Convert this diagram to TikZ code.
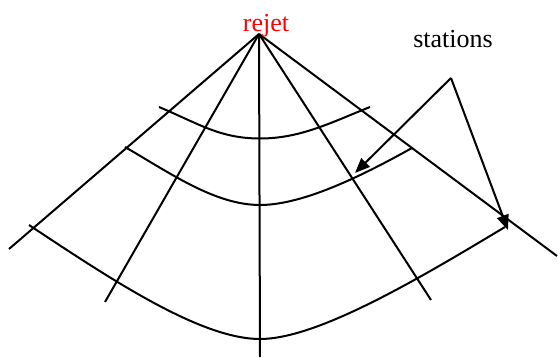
\documentclass[tikz,border=0pt]{standalone}
\usepackage{fontspec}
\setmainfont{Liberation Serif}
\usetikzlibrary{arrows.meta}
\tikzset{
  ln/.style={line width=2pt, line join=round},
  pointer/.style={ln, -{Triangle[length=15pt,width=12pt]}},
  lbl/.style={font=\fontsize{26}{30}\selectfont, inner sep=0pt, anchor=base}
}
\begin{document}
\begin{tikzpicture}[x=1pt,y=-1pt]
\useasboundingbox (0,0) rectangle (558,358);
% apex and ray ends
\coordinate (O) at (259,34);
\coordinate (r1) at (9,249);
\coordinate (r2) at (105,302);
\coordinate (r3) at (260,357);
\coordinate (r4) at (431,300);
\coordinate (r5) at (557,256);
\draw[ln] (O) -- (r1);
\draw[ln] (O) -- (r2);
\draw[ln] (O) -- (r3);
\draw[ln] (O) -- (r4);
\draw[ln] (O) -- (r5);
% arcs
\coordinate (a1l) at (159,107);
\coordinate (a1m) at (260,138.5);
\coordinate (a1r) at (370,107);
\draw[ln] (a1l) .. controls (199,123.8) and (220,138.5) .. (a1m)
          .. controls (300,138.5) and (330,123) .. (a1r);
\coordinate (a2l) at (125,147);
\coordinate (a2m) at (260,205);
\coordinate (a2r) at (412,148);
\draw[ln] (a2l) .. controls (170,173) and (215,205) .. (a2m)
          .. controls (305,205) and (367,173) .. (a2r);
\coordinate (a3l) at (29,225);
\coordinate (a3m) at (260,339);
\coordinate (a3r) at (505,227);
\draw[ln] (a3l) .. controls (109,278) and (200,339) .. (a3m)
          .. controls (318,339) and (420,278) .. (a3r);
% labels
\node[lbl, text=red] (rejet) at (266,32) {rejet};
\node[lbl] (stations) at (453,48) {stations};
% pointers
\coordinate (S) at (451,78);
\coordinate (t1) at (355,173);
\coordinate (t2) at (508,230);
\draw[pointer] (S) -- (t1);
\draw[pointer] (S) -- (t2);
\end{tikzpicture}
\end{document}
